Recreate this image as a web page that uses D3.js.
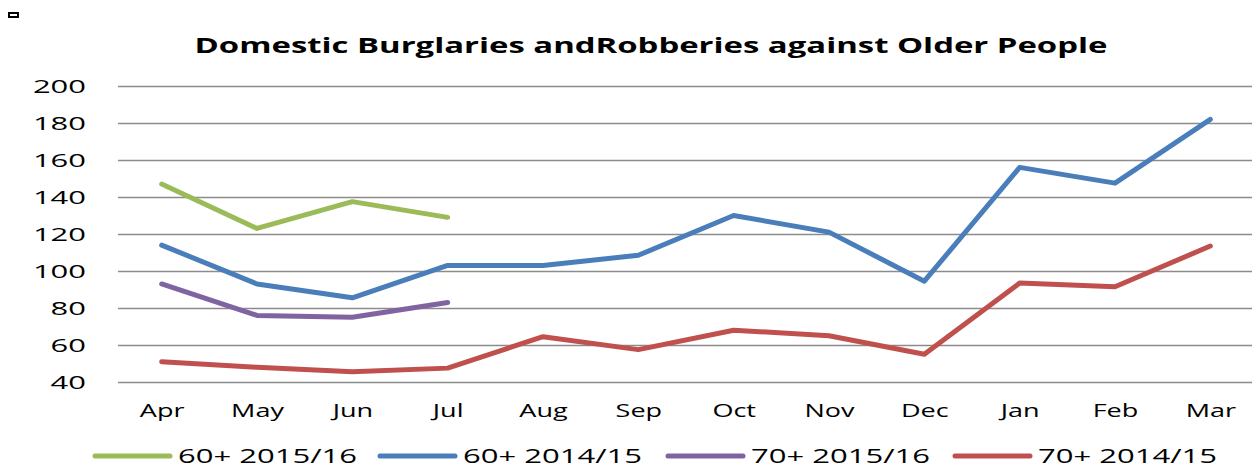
<!DOCTYPE html>
<html>
<head>
<meta charset="utf-8">
<script src="https://cdn.jsdelivr.net/npm/d3@7"></script>
<style>
  html, body { margin: 0; padding: 0; background: #fff; }
  svg { display: block; }
  text { font-family: "Open Sans", "DejaVu Sans", sans-serif; fill: #000; }
</style>
</head>
<body>
<svg id="chart" width="1252" height="470"></svg>
<script>
const title = "Domestic Burglaries andRobberies against Older People";
const months = ["Apr","May","Jun","Jul","Aug","Sep","Oct","Nov","Dec","Jan","Feb","Mar"];
const yTicks = [40, 60, 80, 100, 120, 140, 160, 180, 200];
const seriesNames = ["60+ 2015/16", "60+ 2014/15", "70+ 2015/16", "70+ 2014/15"];
const colors = ["#9BBB59", "#4A7EBB", "#8064A2", "#C0504D"];
const s60_1516 = [147, 123, 137.5, 129];
const s60_1415 = [114, 93, 85.5, 103, 103, 108.5, 130, 121, 94.5, 156, 147.5, 182];
const s70_1516 = [93, 76, 75, 83];
const s70_1415 = [51, 48, 45.5, 47.5, 64.5, 57.5, 68, 65, 55, 93.5, 91.5, 113.5];
const seriesValues = [s60_1516, s60_1415, s70_1516, s70_1415];

const svg = d3.select("#chart");

function stretch(sel, factor) {
  sel.each(function() {
    const w = this.getComputedTextLength();
    d3.select(this).attr("textLength", w * factor).attr("lengthAdjust", "spacingAndGlyphs");
  });
}

const x = d3.scalePoint().domain(months).range([114, 1258]).padding(0.5);
const y = d3.scaleLinear().domain([40, 200]).range([382, 86]);

// small marker at top-left
svg.append("rect").attr("x", 9).attr("y", 13).attr("width", 9).attr("height", 4)
  .attr("fill", "#fff").attr("stroke", "#000").attr("stroke-width", 2);

// title
svg.append("text").attr("x", 651).attr("y", 53).attr("text-anchor", "middle")
  .attr("font-size", 22).attr("font-weight", "bold")
  .attr("textLength", 913).attr("lengthAdjust", "spacingAndGlyphs")
  .text(title);

// gridlines
svg.append("g").selectAll("line").data(yTicks).join("line")
  .attr("x1", 118).attr("x2", 1252)
  .attr("y1", d => Math.round(y(d)) + 0.5).attr("y2", d => Math.round(y(d)) + 0.5)
  .attr("stroke", "#8c8c8c").attr("stroke-width", 1.6);

// y axis labels
const yAxis = svg.append("g").attr("transform", "translate(86,0)")
  .call(d3.axisLeft(y).tickValues(yTicks).tickSize(0).tickPadding(0));
yAxis.select(".domain").remove();
yAxis.selectAll("text").attr("font-size", 18).attr("font-family", "'Open Sans', sans-serif")
  .attr("fill", "#000").attr("dy", "0.36em");
stretch(yAxis.selectAll("text"), 1.72);

// x axis labels
const xAxis = svg.append("g").attr("transform", "translate(0,404)")
  .call(d3.axisBottom(x).tickSize(0).tickPadding(0));
xAxis.select(".domain").remove();
xAxis.selectAll("text").attr("font-size", 18).attr("font-family", "'Open Sans', sans-serif")
  .attr("fill", "#000").attr("dy", "0.71em");
stretch(xAxis.selectAll("text"), 1.5);

// lines
const line = d3.line().x((d, i) => x(months[i])).y(d => y(d));
svg.append("g").selectAll("path").data(seriesValues).join("path")
  .attr("d", d => line(d))
  .attr("fill", "none")
  .attr("stroke", (d, i) => colors[i])
  .attr("stroke-width", 5)
  .attr("stroke-linejoin", "round")
  .attr("stroke-linecap", "round");

// legend
const legendX = [95, 380, 668, 955];
const lg = svg.append("g").selectAll("g").data(seriesNames).join("g")
  .attr("transform", (d, i) => `translate(${legendX[i]},456)`);
lg.append("line").attr("x1", 0).attr("x2", 75).attr("y1", 0).attr("y2", 0)
  .attr("stroke", (d, i) => colors[i]).attr("stroke-width", 5).attr("stroke-linecap", "round");
const lt = lg.append("text").attr("x", 83).attr("y", 0).attr("dy", "0.36em")
  .attr("font-size", 20).text(d => d);
stretch(lt, 1.55);
</script>
</body>
</html>
